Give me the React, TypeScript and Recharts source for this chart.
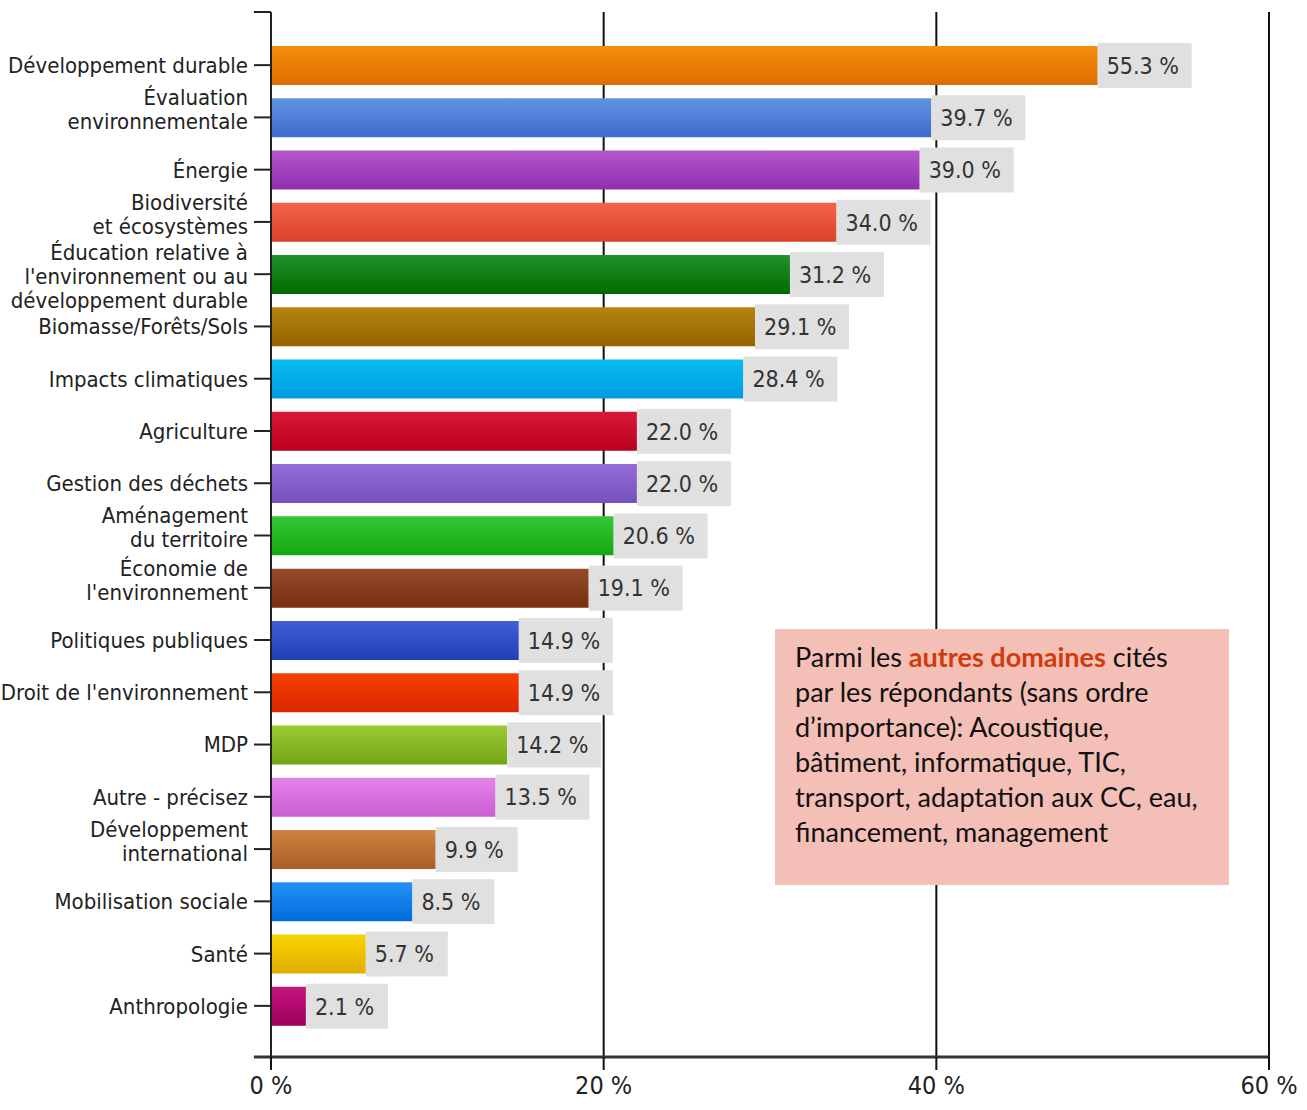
import React from 'react';
import { BarChart, Bar, XAxis, YAxis, CartesianGrid, Cell, LabelList, ReferenceLine } from 'recharts';

const categories: string[][] = [
  ['Développement durable'],
  ['Évaluation', 'environnementale'],
  ['Énergie'],
  ['Biodiversité', 'et écosystèmes'],
  ['Éducation relative à', "l'environnement ou au", 'développement durable'],
  ['Biomasse/Forêts/Sols'],
  ['Impacts climatiques'],
  ['Agriculture'],
  ['Gestion des déchets'],
  ['Aménagement', 'du territoire'],
  ['Économie de', "l'environnement"],
  ['Politiques publiques'],
  ["Droit de l'environnement"],
  ['MDP'],
  ['Autre - précisez'],
  ['Développement', 'international'],
  ['Mobilisation sociale'],
  ['Santé'],
  ['Anthropologie'],
];

// bar lengths as drawn in the picture (%)
const barLengths = [49.7, 39.7, 39.0, 34.0, 31.2, 29.1, 28.4, 22.0, 22.0, 20.6, 19.1, 14.9, 14.9, 14.2, 13.5, 9.9, 8.5, 5.7, 2.1];
// values printed next to the bars (%)
const printedValues = [55.3, 39.7, 39.0, 34.0, 31.2, 29.1, 28.4, 22.0, 22.0, 20.6, 19.1, 14.9, 14.9, 14.2, 13.5, 9.9, 8.5, 5.7, 2.1];

const xTicks = [0, 20, 40, 60];

const noteLines = [
  'par les répondants (sans ordre',
  'd’importance): Acoustique,',
  'bâtiment, informatique, TIC,',
  'transport, adaptation aux CC, eau,',
  'financement, management',
];

const barColors: [string, string][] = [
  ['#F68E0A', '#DF6C00'],
  ['#6292E4', '#3E6CCB'],
  ['#B855CC', '#8E2FAE'],
  ['#F3624A', '#DC4229'],
  ['#22922A', '#006A00'],
  ['#B4850F', '#956200'],
  ['#0ABBF2', '#009BDF'],
  ['#D81838', '#BA001E'],
  ['#956DD6', '#7650BE'],
  ['#34C634', '#14A814'],
  ['#964C2A', '#782E10'],
  ['#405FD4', '#2040B6'],
  ['#F64000', '#DC2600'],
  ['#9CCB32', '#74A416'],
  ['#E484EA', '#CA5ED2'],
  ['#CA8444', '#AE5E22'],
  ['#2492F4', '#006CDE'],
  ['#F8D400', '#E0AE00'],
  ['#C4147E', '#9C005C'],
];

const data = categories.map((c, i) => ({
  key: c.join(' '),
  lines: c,
  value: barLengths[i],
  label: `${printedValues[i].toFixed(1)} %`,
}));

const FONT = '"DejaVu Sans Condensed", "DejaVu Sans", sans-serif';

const CategoryTick = (props: any) => {
  const { x, y, payload, index } = props;
  const lines: string[] = categories[index] || [payload.value];
  const lh = 24;
  const shift = lines.length === 2 ? -8 : lines.length === 3 ? 2 : 0;
  const startY = y - ((lines.length - 1) * lh) / 2 + shift;
  return (
    <text x={x - 4} textAnchor="end" fontFamily={FONT} fontSize={22} fill="#222">
      {lines.map((l, i) => (
        <tspan key={i} x={x - 4} y={startY + i * lh} dy="0.36em">
          {l}
        </tspan>
      ))}
    </text>
  );
};

const ValueLabel = (props: any) => {
  const { x, y, width, height, value } = props;
  const s = String(value);
  const boxW = 12 * s.length + 22;
  const bx = x + width;
  return (
    <g>
      <rect x={bx} y={y - 3} width={boxW} height={height + 6} fill="#E0E0E0" />
      <text x={bx + 9} y={y + height / 2} dy="0.36em" fontFamily={FONT} fontSize={23} fill="#333">
        {s}
      </text>
    </g>
  );
};

const lastIndex = categories.length - 1;

export default function App() {
  return (
    <div style={{ position: 'absolute', left: 0, top: 0, width: 1307, height: 1110, background: '#fff' }}>
      <BarChart
        width={1307}
        height={1110}
        data={data}
        layout="vertical"
        margin={{ top: 12, right: 38, left: 0, bottom: 0 }}
        barSize={39}
      >
        <defs>
          {barColors.map((c, i) => (
            <linearGradient key={i} id={`g${i}`} x1="0" y1="0" x2="0" y2="1">
              <stop offset="0%" stopColor={c[0]} />
              <stop offset="100%" stopColor={c[1]} />
            </linearGradient>
          ))}
        </defs>
        <CartesianGrid vertical horizontal={false} stroke="#111" strokeWidth={2} />
        <XAxis
          type="number"
          domain={[0, 60]}
          ticks={xTicks}
          tickFormatter={(v: number) => `${v} %`}
          height={53}
          tickSize={13}
          tickMargin={6}
          axisLine={{ stroke: '#333', strokeWidth: 3 }}
          tickLine={{ stroke: '#111', strokeWidth: 2 }}
          tick={{ fontFamily: FONT, fontSize: 25, fill: '#222' }}
          allowDataOverflow
        />
        <YAxis
          type="category"
          dataKey="key"
          width={271}
          interval={0}
          tickSize={17}
          tickLine={{ stroke: '#222', strokeWidth: 2 }}
          axisLine={{ stroke: '#222', strokeWidth: 2 }}
          padding={{ top: 27, bottom: 25 }}
          tick={<CategoryTick />}
        />
        <YAxis yAxisId="n" type="number" hide />
        <ReferenceLine
          yAxisId="n"
          segment={[{ x: -1.03, y: 0 }, { x: 0, y: 0 }]}
          stroke="#222"
          strokeWidth={2}
          ifOverflow="visible"
        />
        <ReferenceLine
          yAxisId="n"
          segment={[{ x: -1.03, y: lastIndex }, { x: 0, y: lastIndex }]}
          stroke="#333"
          strokeWidth={3}
          ifOverflow="visible"
        />
        <Bar dataKey="value" isAnimationActive={false}>
          {data.map((_, i) => (
            <Cell key={i} fill={`url(#g${i})`} />
          ))}
          <LabelList dataKey="label" content={<ValueLabel />} />
        </Bar>
      </BarChart>
      <div
        style={{
          position: 'absolute',
          left: 775,
          top: 629,
          width: 454,
          height: 256,
          background: '#F4BFB6',
          boxSizing: 'border-box',
          padding: '10px 20px',
          fontFamily: 'Lato, "Open Sans", sans-serif',
          fontSize: 27,
          lineHeight: '35px',
          color: '#111',
          whiteSpace: 'nowrap',
        }}
      >
        Parmi les <span style={{ color: '#CF3C0A', fontWeight: 'bold' }}>autres domaines</span> cités
        {noteLines.map((l, i) => (
          <React.Fragment key={i}>
            <br />
            {l}
          </React.Fragment>
        ))}
      </div>
    </div>
  );
}
